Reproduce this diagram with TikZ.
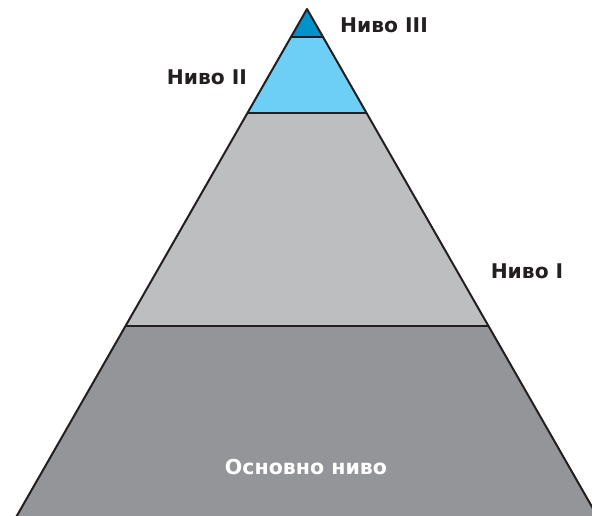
\documentclass[tikz,border=0pt]{standalone}
\usepackage{fontspec}
\setmainfont{DejaVu Sans}
\usetikzlibrary{positioning}
\definecolor{levelthree}{HTML}{0092C9}
\definecolor{leveltwo}{HTML}{6DCFF6}
\definecolor{levelone}{HTML}{BCBEC0}
\definecolor{basecolor}{HTML}{939598}
\definecolor{inkgrey}{HTML}{231F20}

\begin{document}
\begin{tikzpicture}
  [x=0.75pt,y=-0.75pt,
   edge line/.style={draw=inkgrey,line width=1.5pt,line join=round},
   level label/.style={font=\bfseries\fontsize{15.2}{18}\selectfont,text=inkgrey},
   base label/.style={font=\bfseries\fontsize{15.4}{18}\selectfont,text=white}]
  \useasboundingbox (0,0) rectangle (592,516);
  \clip (0,0) rectangle (592,516);
  % corners of the pyramid
  \coordinate (Apex)      at (307,9);
  \coordinate (BaseLeft)  at (-5,554);
  \coordinate (BaseRight) at (619,554);
  % bands
  \begin{scope}
    \clip (Apex) -- (BaseLeft) -- (BaseRight) -- cycle;
    \fill[levelthree] (0,0)   rectangle (592,37);
    \fill[leveltwo]   (0,37)  rectangle (592,113);
    \fill[levelone]   (0,113) rectangle (592,326);
    \fill[basecolor]  (0,326) rectangle (592,560);
    \draw[edge line] (0,37)  -- (592,37);
    \draw[edge line] (0,113) -- (592,113);
    \draw[edge line] (0,326) -- (592,326);
  \end{scope}
  \draw[edge line] (BaseLeft) -- (Apex) -- (BaseRight);
  % labels
  \node[level label] (LevelThree) at (384,25)  {Ниво III};
  \node[level label] (LevelTwo)   at (207,77)  {Ниво II};
  \node[level label] (LevelOne)   at (527,271) {Ниво I};
  \node[base label]  (BaseLevel)  at (306,467) {Основно ниво};
\end{tikzpicture}
\end{document}
